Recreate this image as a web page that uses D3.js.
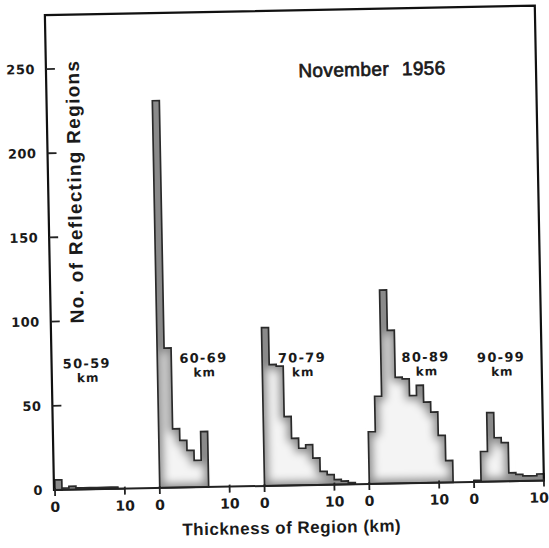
<!DOCTYPE html>
<html>
<head>
<meta charset="utf-8">
<script src="https://cdn.jsdelivr.net/npm/d3@7"></script>
<style>
body{margin:0;background:#fff;}
text{fill:#1a1a1a;}
</style>
</head>
<body>
<div id="chart"></div>
<script>
// height ranges (km) shown as separate little histograms
var ranges = ["50-59", "60-69", "70-79", "80-89", "90-99"];
// counts per 1 km of thickness
var counts5059 = [6, 1, 2, 1, 1, 1, 1, 1, 1, 0];
var counts6069 = [230, 83, 35, 28, 22, 16, 33];
var counts7079 = [94, 72, 71, 41, 28, 22, 24, 16, 8, 6, 3, 2, 1];
var counts8089 = [31, 52, 115, 91, 63, 62, 52, 58, 48, 42, 28, 13];
var counts9099 = [1, 18, 41, 26, 23, 5, 4, 3, 3, 4];
var allCounts = [counts5059, counts6069, counts7079, counts8089, counts9099];
var yTicks = [0, 50, 100, 150, 200, 250];
var xTicks = [0, 10];
var panelStep = 15; // km of axis given to each panel

var W = 549, H = 548;
var svg = d3.select("#chart").append("svg")
  .attr("width", W).attr("height", H);

var defs = svg.append("defs");
var f = defs.append("filter").attr("id", "soft")
  .attr("x", "-20%").attr("y", "-20%").attr("width", "140%").attr("height", "140%");
f.append("feMorphology").attr("operator", "erode").attr("radius", 3.5);
f.append("feGaussianBlur").attr("stdDeviation", 4);

// the scan is a little tilted
var g = svg.append("g").attr("transform", "rotate(-1.1,54,490)");

var x = d3.scaleLinear().domain([0, 70]).range([55, 544]);
var y = d3.scaleLinear().domain([0, 250]).range([490, 69]);

// histograms
allCounts.forEach(function(c, i) {
  var off = i * panelStep;
  var pts = [[x(off), y(0)]];
  c.forEach(function(v, k) {
    pts.push([x(off + k), y(v)]);
    pts.push([x(off + k + 1), y(v)]);
  });
  pts.push([x(off + c.length), y(0)]);
  var d = d3.line()(pts) + "Z";
  g.append("path").attr("d", d).attr("fill", "#8a8a8a");
  g.append("path").attr("d", d).attr("fill", "#f4f4f4").attr("filter", "url(#soft)");
  g.append("path").attr("d", d).attr("fill", "none")
    .attr("stroke", "#2a2a2a").attr("stroke-width", 1.7)
    .attr("stroke-linejoin", "miter");
});

// frame
g.append("path")
  .attr("d", "M54,491 L54,15 L" + x(70) + ",15 L" + x(70) + ",491")
  .attr("fill", "none").attr("stroke", "#111").attr("stroke-width", 2.2);
g.append("line").attr("x1", 54).attr("x2", x(70))
  .attr("y1", y(0)).attr("y2", y(0))
  .attr("stroke", "#222").attr("stroke-width", 2);

// y axis ticks
g.selectAll(".yt").data(yTicks).enter().append("line")
  .attr("x1", 54).attr("x2", 63)
  .attr("y1", d => y(d)).attr("y2", d => y(d))
  .attr("stroke", "#222").attr("stroke-width", 1.8);
g.selectAll(".yl").data(yTicks).enter().append("text")
  .attr("x", 43).attr("y", d => y(d)).attr("dy", "0.36em")
  .attr("text-anchor", "end")
  .style("font", "bold 13px 'DejaVu Sans'").style("letter-spacing", "0.5px")
  .text(d => d);

// x axis ticks, per panel
var xt = [];
ranges.forEach(function(r, i) {
  xTicks.forEach(function(t) { xt.push({v: i * panelStep + t, t: t}); });
});
g.selectAll(".xt").data(xt).enter().append("line")
  .attr("x1", d => x(d.v)).attr("x2", d => x(d.v))
  .attr("y1", y(0) - 2).attr("y2", y(0) + 6)
  .attr("stroke", "#222").attr("stroke-width", 1.8);
g.selectAll(".xl").data(xt).enter().append("text")
  .attr("x", d => Math.min(x(d.v), 539)).attr("y", 512)
  .attr("text-anchor", "middle")
  .style("font", "bold 14px 'DejaVu Sans'")
  .text(d => d.t);

// range labels
var labPos = [[4.9, 72], [21.6, 74], [35.7, 73], [53.4, 72], [64.2, 71]];
ranges.forEach(function(r, i) {
  var lx = x(labPos[i][0]), ly = y(labPos[i][1]);
  g.append("text").attr("x", lx).attr("y", ly)
    .attr("text-anchor", "middle")
    .style("font", "bold 13px 'DejaVu Sans'").style("letter-spacing", "1.3px")
    .text(r);
  g.append("text").attr("x", lx + 1).attr("y", ly + 14)
    .attr("text-anchor", "middle")
    .style("font", "bold 12px 'DejaVu Sans'").style("letter-spacing", "1px")
    .text("km");
});

// titles
g.append("text").attr("x", 380).attr("y", 82)
  .attr("text-anchor", "middle")
  .style("font", "19px 'Liberation Sans'").style("word-spacing", "7px")
  .style("letter-spacing", "0.4px")
  .style("stroke", "#1a1a1a").style("stroke-width", 0.7)
  .text("November 1956");

g.append("text")
  .attr("transform", "translate(87,192) rotate(-90)")
  .attr("text-anchor", "middle")
  .style("font", "bold 19px 'Liberation Sans'").style("letter-spacing", "1.3px")
  .text("No. of Reflecting Regions");

g.append("text").attr("x", 291).attr("y", 538)
  .attr("text-anchor", "middle")
  .style("font", "bold 17px 'Liberation Sans'").style("letter-spacing", "0.5px")
  .text("Thickness of Region (km)");
</script>
</body>
</html>
